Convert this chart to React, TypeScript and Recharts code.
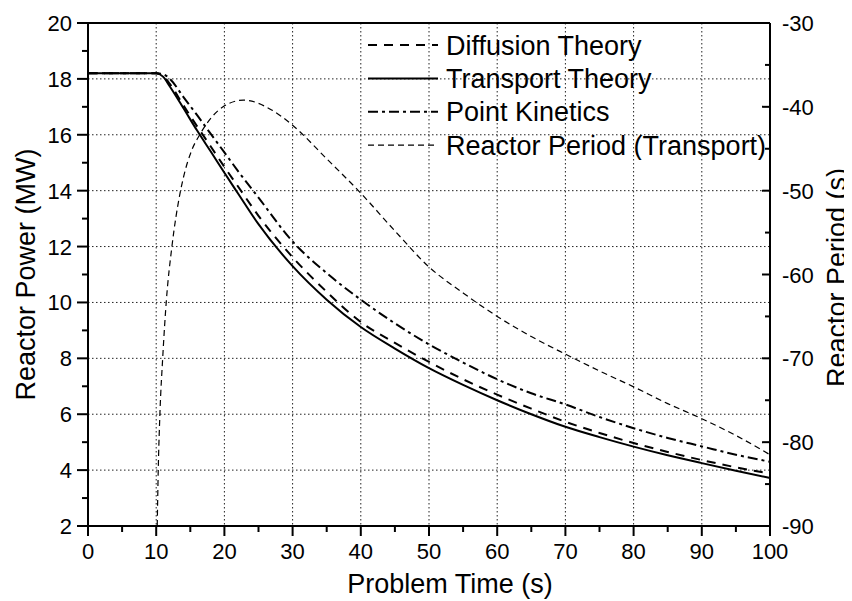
import {
  LineChart,
  Line,
  XAxis,
  YAxis,
  CartesianGrid,
  ReferenceLine,
  Legend,
} from "recharts";

// power curves (MW) vs problem time (s)
const powerTime = [0, 5, 10, 11, 12, 14, 16, 18, 20, 22, 25, 30, 35, 40, 45, 50, 55, 60, 65, 70, 75, 80, 85, 90, 95, 100];
const diffusionPower = [18.2, 18.2, 18.2, 18.12, 17.82, 17.05, 16.3, 15.58, 14.85, 14.15, 13.1, 11.62, 10.38, 9.3, 8.55, 7.87, 7.25, 6.7, 6.2, 5.73, 5.33, 4.97, 4.65, 4.36, 4.1, 3.88];
const transportPower = [18.2, 18.2, 18.2, 18.08, 17.73, 16.95, 16.15, 15.4, 14.64, 13.9, 12.8, 11.3, 10.1, 9.12, 8.35, 7.65, 7.05, 6.5, 6.0, 5.55, 5.18, 4.84, 4.53, 4.25, 3.98, 3.72];
const pointKineticsPower = [18.2, 18.2, 18.2, 18.17, 18.0, 17.35, 16.7, 16.03, 15.37, 14.7, 13.75, 12.18, 11.05, 10.1, 9.25, 8.5, 7.85, 7.25, 6.75, 6.35, 5.9, 5.5, 5.15, 4.85, 4.55, 4.3];

// reactor period (s), transport
const periodTime = [10.15, 10.3, 10.55, 10.95, 11.5, 12.3, 13.5, 14, 15.2, 16.4, 19.8, 22.8, 27, 30, 35, 40, 45, 50, 55, 60, 65, 70, 75, 80, 85, 90, 95, 100];
const reactorPeriod = [-90, -83.3, -76.5, -70, -63, -56.7, -50.3, -48.4, -45.2, -43.3, -40, -39.2, -40.4, -42.2, -46.2, -50.3, -54.8, -59.1, -62.2, -65, -67.4, -69.5, -71.5, -73.4, -75.4, -77.2, -79.2, -81.5];

const xTicks = [0, 5, 10, 15, 20, 25, 30, 35, 40, 45, 50, 55, 60, 65, 70, 75, 80, 85, 90, 95, 100];
const xGrid = [0, 10, 20, 30, 40, 50, 60, 70, 80, 90, 100];
const powerTicks = [2, 3, 4, 5, 6, 7, 8, 9, 10, 11, 12, 13, 14, 15, 16, 17, 18, 19, 20];
const powerGrid = [2, 4, 6, 8, 10, 12, 14, 16, 18, 20];
const periodTicks = [-90, -85, -80, -75, -70, -65, -60, -55, -50, -45, -40, -35, -30];

const legendItems = [
  { name: "Diffusion Theory", dash: "9 7", width: 2 },
  { name: "Transport Theory", dash: undefined, width: 2 },
  { name: "Point Kinetics", dash: "10 4 3 4", width: 2 },
  { name: "Reactor Period (Transport)", dash: "6 4", width: 1.2 },
];

const FONT = "'Liberation Sans', Arial, sans-serif";

const diffusionData = powerTime.map((t, i) => ({ t, p: diffusionPower[i] }));
const transportData = powerTime.map((t, i) => ({ t, p: transportPower[i] }));
const pkData = powerTime.map((t, i) => ({ t, p: pointKineticsPower[i] }));
const periodData = periodTime.map((t, i) => ({ t, r: reactorPeriod[i] }));

const BottomTick = ({ x, y, payload }: any) => {
  const major = payload.value % 10 === 0;
  return (
    <g>
      <line x1={x} y1={y} x2={x} y2={y + (major ? 10 : 6)} stroke="#000" strokeWidth={2} />
      {major && (
        <text x={x} y={y + 33} textAnchor="middle" fontSize={22} fontFamily={FONT} fill="#000">
          {payload.value}
        </text>
      )}
    </g>
  );
};

const LeftTick = ({ x, y, payload }: any) => {
  const major = payload.value % 2 === 0;
  return (
    <g>
      <line x1={x - (major ? 11 : 6)} y1={y} x2={x} y2={y} stroke="#000" strokeWidth={2} />
      {major && (
        <text x={x - 16} y={y + 8} textAnchor="end" fontSize={22} fontFamily={FONT} fill="#000">
          {payload.value}
        </text>
      )}
    </g>
  );
};

const RightTick = ({ x, y, payload }: any) => {
  const major = payload.value % 10 === 0;
  return (
    <g>
      <line x1={x - (major ? 8 : 5)} y1={y} x2={x} y2={y} stroke="#000" strokeWidth={2} />
      {major && (
        <text x={x + 12} y={y + 8} textAnchor="start" fontSize={22} fontFamily={FONT} fill="#000">
          {payload.value}
        </text>
      )}
    </g>
  );
};

const renderLegend = () => (
  <svg width={420} height={140}>
    {legendItems.map((item, i) => {
      const cy = 25 + i * 33.4;
      return (
        <g key={item.name}>
          <line x1={8} y1={cy} x2={78} y2={cy} stroke="#000" strokeWidth={item.width} strokeDasharray={item.dash} />
          <text x={86} y={cy + 9.5} fontSize={27} fontFamily={FONT} fill="#000">
            {item.name}
          </text>
        </g>
      );
    })}
  </svg>
);

export default function App() {
  return (
    <LineChart width={844} height={593} margin={{ top: 15, right: 0, left: 0, bottom: 0 }}>
      <CartesianGrid
        yAxisId="left"
        stroke="#222"
        strokeDasharray="1.5 2.5"
        horizontalValues={powerGrid}
        verticalValues={xGrid}
      />
      <XAxis
        dataKey="t"
        type="number"
        domain={[0, 100]}
        ticks={xTicks}
        allowDuplicatedCategory={false}
        height={75}
        tickSize={0}
        tickMargin={0}
        tick={<BottomTick />}
        axisLine={{ stroke: "#000", strokeWidth: 2 }}
        tickLine={false}
        interval={0}
        label={({ viewBox }: any) => (
          <text
            x={viewBox.x + viewBox.width / 2 + 21}
            y={viewBox.y + 67}
            textAnchor="middle"
            fontSize={27}
            fontFamily={FONT}
            fill="#000"
          >
            Problem Time (s)
          </text>
        )}
      />
      <YAxis
        yAxisId="left"
        type="number"
        domain={[2, 20]}
        ticks={powerTicks}
        width={80}
        tickSize={0}
        tickMargin={0}
        tick={<LeftTick />}
        axisLine={{ stroke: "#000", strokeWidth: 2 }}
        tickLine={false}
        interval={0}
        allowDataOverflow
        label={({ viewBox }: any) => {
          const cx = viewBox.x + 27;
          const cy = viewBox.y + viewBox.height / 2;
          return (
            <text
              x={cx}
              y={cy}
              transform={`rotate(-90, ${cx}, ${cy})`}
              textAnchor="middle"
              fontSize={27}
              fontFamily={FONT}
              fill="#000"
            >
              Reactor Power (MW)
            </text>
          );
        }}
      />
      <YAxis
        yAxisId="right"
        orientation="right"
        type="number"
        domain={[-90, -30]}
        ticks={periodTicks}
        width={82}
        tickSize={0}
        tickMargin={0}
        tick={<RightTick />}
        axisLine={{ stroke: "#000", strokeWidth: 2 }}
        tickLine={false}
        interval={0}
        allowDataOverflow
        label={({ viewBox }: any) => {
          const cx = viewBox.x + 76;
          const cy = viewBox.y + viewBox.height / 2 + 3;
          return (
            <text
              x={cx}
              y={cy}
              transform={`rotate(-90, ${cx}, ${cy})`}
              textAnchor="middle"
              fontSize={27}
              fontFamily={FONT}
              fill="#000"
            >
              Reactor Period (s)
            </text>
          );
        }}
      />
      <ReferenceLine yAxisId="left" y={20} stroke="#000" strokeWidth={2} />
      <Line
        yAxisId="left"
        data={diffusionData}
        dataKey="p"
        type="monotone"
        stroke="#000"
        strokeWidth={2}
        strokeDasharray="9 7"
        dot={false}
        isAnimationActive={false}
      />
      <Line
        yAxisId="left"
        data={transportData}
        dataKey="p"
        type="monotone"
        stroke="#000"
        strokeWidth={2}
        dot={false}
        isAnimationActive={false}
      />
      <Line
        yAxisId="left"
        data={pkData}
        dataKey="p"
        type="monotone"
        stroke="#000"
        strokeWidth={2}
        strokeDasharray="10 4 3 4"
        dot={false}
        isAnimationActive={false}
      />
      <Line
        yAxisId="right"
        data={periodData}
        dataKey="r"
        type="monotone"
        stroke="#000"
        strokeWidth={1.2}
        strokeDasharray="6 4"
        dot={false}
        isAnimationActive={false}
      />
      <Legend
        layout="vertical"
        align="center"
        verticalAlign="middle"
        content={renderLegend}
        wrapperStyle={{ left: 352, top: 12, width: 420, height: 140 }}
      />
    </LineChart>
  );
}
